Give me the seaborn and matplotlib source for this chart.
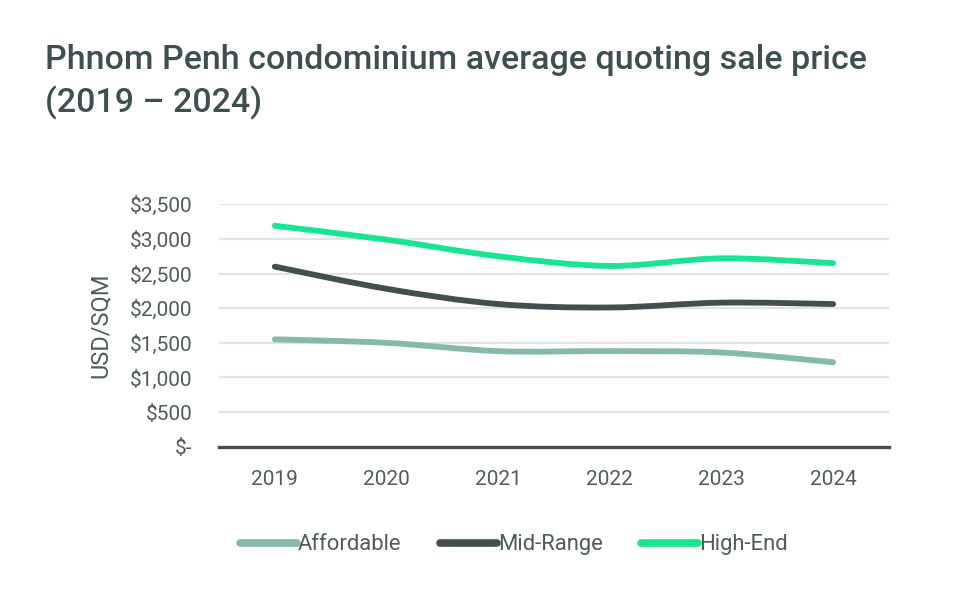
import numpy as np
import pandas as pd
import matplotlib
matplotlib.use("Agg")
import matplotlib.pyplot as plt
from matplotlib.path import Path
from matplotlib.patches import PathPatch
import seaborn as sns

years = ["2019", "2020", "2021", "2022", "2023", "2024"]
affordable = [1550, 1500, 1380, 1380, 1360, 1220]
mid_range = [2600, 2280, 2060, 2010, 2080, 2060]
high_end = [3190, 2990, 2750, 2610, 2720, 2650]
series_names = ["Affordable", "Mid-Range", "High-End"]
colors = ["#84b9ab", "#414f51", "#19e590"]
yticks = [0, 500, 1000, 1500, 2000, 2500, 3000, 3500]
ytick_labels = ["$-", "$500", "$1,000", "$1,500", "$2,000", "$2,500", "$3,000", "$3,500"]

sns.set_theme(style="white")
plt.rcParams["font.family"] = ["Roboto", "DejaVu Sans"]

df = pd.DataFrame({
    "Year": years * 3,
    "Price": affordable + mid_range + high_end,
    "Segment": sum([[n] * len(years) for n in series_names], []),
})
df["x"] = df["Year"].map({y: i for i, y in enumerate(years)})

fig = plt.figure(figsize=(9.56, 5.98), dpi=100)
ax = fig.add_axes([219 / 956, 1 - 446.7 / 598, 670 / 956, (446.7 - 204.3) / 598])

text_col = "#4f5b5c"
lw = 4.2

sns.lineplot(data=df, x="x", y="Price", hue="Segment", palette=dict(zip(series_names, colors)),
             linewidth=lw, ax=ax, legend=True, sort=False)

handles, labels = ax.get_legend_handles_labels()
leg = ax.legend(handles, labels, loc="upper center", bbox_to_anchor=(0.44, -0.28), ncol=3,
                frameon=False, handlelength=2.6, handletextpad=0.05, columnspacing=1.75,
                fontsize=15.8, labelcolor=text_col)
for h in leg.get_lines():
    h.set_linewidth(5.5)
    h.set_solid_capstyle("round")

# smooth (Excel-like) rendering of each series from its data points
for name, col in zip(series_names, colors):
    sub = df[df["Segment"] == name].sort_values("x")
    P = np.column_stack([sub["x"].to_numpy(float), sub["Price"].to_numpy(float)])
    n = len(P)
    verts = [P[0]]
    codes = [Path.MOVETO]
    for i in range(n - 1):
        p0 = P[i - 1] if i > 0 else P[i]
        p1 = P[i]
        p2 = P[i + 1]
        p3 = P[i + 2] if i + 2 < n else P[i + 1]
        c1 = p1 + (p2 - p0) / 6.0
        c2 = p2 - (p3 - p1) / 6.0
        verts += [c1, c2, p2]
        codes += [Path.CURVE4] * 3
    patch = PathPatch(Path(verts, codes), facecolor="none", edgecolor=col, lw=lw,
                      capstyle="round", joinstyle="round", zorder=3)
    ax.add_patch(patch)

for l in ax.lines:
    l.set_visible(False)

ax.set_xlim(-0.5, 5.5)
ax.set_ylim(0, 3500)
ax.set_xticks(range(len(years)))
ax.set_xticklabels(years)
ax.set_yticks(yticks)
ax.set_yticklabels(ytick_labels)
ax.tick_params(axis="both", length=0, labelsize=15, labelcolor=text_col)
ax.tick_params(axis="x", pad=17)
ax.tick_params(axis="y", pad=19)
ax.grid(axis="y", color="#e0e4e3", linewidth=1.6)
ax.set_axisbelow(True)
for s in ["left", "right", "top"]:
    ax.spines[s].set_visible(False)
ax.spines["bottom"].set_color("#414f51")
ax.spines["bottom"].set_linewidth(2.4)
ax.spines["bottom"].set_zorder(4)
ax.set_xlabel("")
ax.set_ylabel("USD/SQM", fontsize=17, color=text_col, labelpad=13)

fig.text(45 / 956, 1 - 44 / 598, "Phnom Penh condominium average quoting sale price\n(2019 – 2024)",
         fontsize=24.5, fontweight="medium", color="#3e4f50", va="top", ha="left", linespacing=1.35)

fig.savefig("out.png", dpi=100, facecolor="white")
